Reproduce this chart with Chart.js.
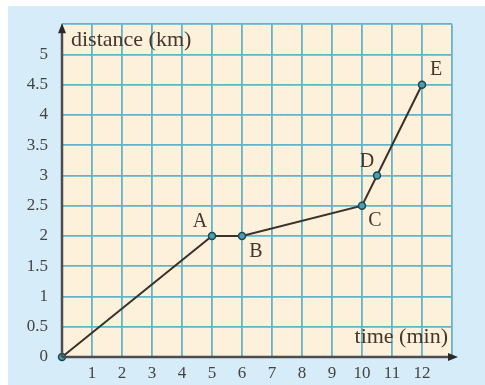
<!DOCTYPE html>
<html>
<head>
<meta charset="utf-8">
<script src="https://cdn.jsdelivr.net/npm/chart.js@4/dist/chart.umd.min.js"></script>
<style>
  body { margin: 0; background: #fff; }
  #wrap { width: 485px; height: 385px; }
</style>
</head>
<body>
<div id="wrap"><canvas id="chart" width="485" height="385"></canvas></div>
<script>
// data
const times = [0, 5, 6, 10, 10.5, 12];
const distances = [0, 2, 2, 2.5, 3, 4.5];
const pointNames = ["", "A", "B", "C", "D", "E"];
const xTicks = [1, 2, 3, 4, 5, 6, 7, 8, 9, 10, 11, 12];
const yTicks = [0, 0.5, 1, 1.5, 2, 2.5, 3, 3.5, 4, 4.5, 5];

// where each letter sits relative to its point
const labelOffsets = [[0, 0], [-12, -14], [14, 16], [13, 15], [-10, -14], [14, -15]];

const serif = "'Liberation Serif', 'DejaVu Serif', serif";

const decor = {
    id: "decor",
    beforeDraw(chart) {
        const ctx = chart.ctx;
        const a = chart.chartArea;
        ctx.save();
        ctx.fillStyle = "#ffffff";
        ctx.fillRect(0, 0, chart.width, chart.height);
        ctx.fillStyle = "#d6ecf8";
        ctx.fillRect(8, 6, chart.width - 8, chart.height - 6);
        ctx.fillStyle = "#fdf1dc";
        ctx.fillRect(a.left, a.top, a.right - a.left, a.bottom - a.top);
        ctx.restore();
    },
    afterDatasetsDraw(chart) {
        const ctx = chart.ctx;
        const a = chart.chartArea;
        const xs = chart.scales.x, ys = chart.scales.y;
        ctx.save();

        // axes with arrows
        ctx.strokeStyle = "#4d4d4d";
        ctx.fillStyle = "#2b2b2b";
        ctx.lineWidth = 2.5;
        ctx.beginPath();
        ctx.moveTo(a.left, a.bottom);
        ctx.lineTo(a.left, a.top + 4);
        ctx.moveTo(a.left, a.bottom);
        ctx.lineTo(a.right + 2, a.bottom);
        ctx.stroke();
        ctx.beginPath();
        ctx.moveTo(a.left, a.top - 1);
        ctx.lineTo(a.left - 4, a.top + 9);
        ctx.lineTo(a.left + 4, a.top + 9);
        ctx.closePath();
        ctx.fill();
        ctx.beginPath();
        ctx.moveTo(a.right + 6, a.bottom);
        ctx.lineTo(a.right - 4, a.bottom - 4);
        ctx.lineTo(a.right - 4, a.bottom + 4);
        ctx.closePath();
        ctx.fill();

        // axis titles
        ctx.fillStyle = "#45362b";
        ctx.font = "22px " + serif;
        ctx.textBaseline = "middle";
        ctx.textAlign = "left";
        ctx.fillText("distance (km)", a.left + 9, a.top + 16);
        ctx.textAlign = "right";
        ctx.fillText("time (min)", a.right - 4, a.bottom - 20);

        // point letters
        ctx.font = "20px " + serif;
        ctx.textAlign = "center";
        for (let i = 0; i < times.length; i++) {
            if (!pointNames[i]) continue;
            const px = xs.getPixelForValue(times[i]);
            const py = ys.getPixelForValue(distances[i]);
            ctx.fillText(pointNames[i], px + labelOffsets[i][0], py + labelOffsets[i][1]);
        }
        ctx.restore();
    }
};

new Chart(document.getElementById("chart"), {
    type: "scatter",
    data: {
        datasets: [{
            data: times.map((t, i) => ({ x: t, y: distances[i] })),
            showLine: true,
            borderColor: "#3a3129",
            borderWidth: 2,
            pointRadius: 3.5,
            pointBackgroundColor: "#4a9eae",
            pointBorderColor: "#1c4853",
            pointBorderWidth: 1.5,
            tension: 0
        }]
    },
    plugins: [decor],
    options: {
        responsive: false,
        animation: false,
        clip: false,
        layout: { padding: { top: 23, right: 33, left: 0, bottom: 0 } },
        plugins: { legend: { display: false }, tooltip: { enabled: false } },
        scales: {
            x: {
                type: "linear",
                min: 0,
                max: 13,
                afterFit(scale) { scale.height = 28; },
                afterBuildTicks(scale) {
                    scale.ticks = [0].concat(xTicks, [13]).map(v => ({ value: v }));
                },
                grid: { color: "#62b4c8", lineWidth: 1.8, drawTicks: false },
                border: { display: false },
                ticks: {
                    padding: 6,
                    color: "#444",
                    font: { family: serif, size: 17 },
                    callback: v => xTicks.includes(v) ? String(v) : ""
                }
            },
            y: {
                min: 0,
                max: 5.5,
                afterFit(scale) { scale.width = 62; },
                afterBuildTicks(scale) {
                    scale.ticks = yTicks.concat([5.5]).map(v => ({ value: v }));
                },
                grid: { color: "#62b4c8", lineWidth: 1.8, drawTicks: false },
                border: { display: false },
                ticks: {
                    padding: 14,
                    color: "#444",
                    font: { family: serif, size: 17 },
                    callback: v => yTicks.includes(v) ? String(v) : ""
                }
            }
        }
    }
});
</script>
</body>
</html>
